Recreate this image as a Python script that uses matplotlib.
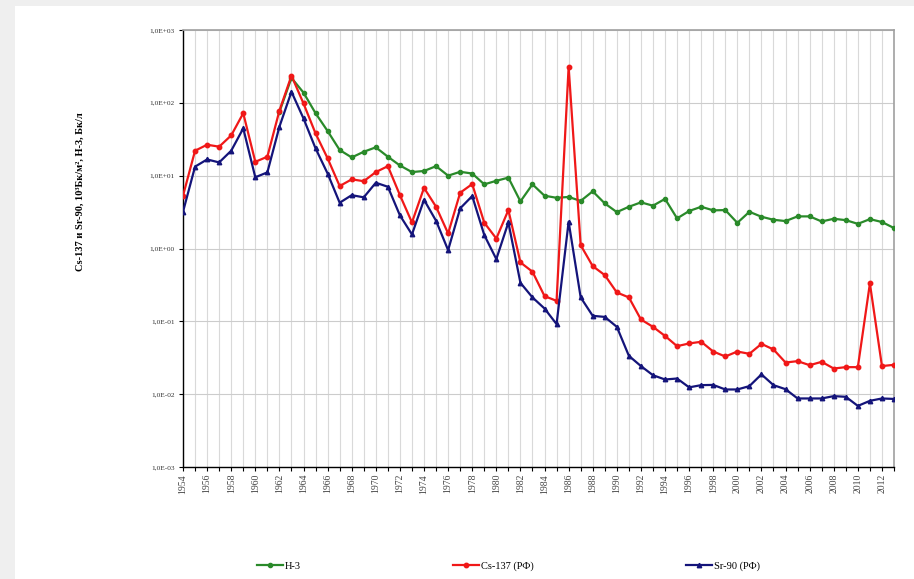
import matplotlib
matplotlib.use("Agg")
import matplotlib.pyplot as plt
from matplotlib.patches import Rectangle
import numpy as np

# годы и значения
years = list(range(1954, 2014))

h3_years = list(range(1962, 2014))
h3 = [75, 220, 138, 72, 41, 22.5, 17.8, 21.3, 24.5, 18.2, 13.8, 11.2,
      11.6, 13.5, 10.0, 11.3, 10.7, 7.6, 8.5, 9.4, 4.43, 7.6, 5.3, 4.97,
      5.1, 4.5, 6.1, 4.16, 3.16, 3.74, 4.3, 3.87, 4.8, 2.59, 3.27, 3.74,
      3.34, 3.37, 2.25, 3.19, 2.73, 2.48, 2.38, 2.76, 2.76, 2.35, 2.56,
      2.45, 2.18, 2.53, 2.31, 1.91]

cs137 = [5.3, 22, 26.6, 25, 35.7, 72, 15.5, 18.2, 78, 236, 98, 38, 17.3,
         7.2, 8.9, 8.4, 11.2, 13.5, 5.4, 2.28, 6.8, 3.74, 1.61, 5.83, 7.67,
         2.26, 1.37, 3.37, 0.644, 0.48, 0.222, 0.191, 313, 1.11, 0.573,
         0.431, 0.249, 0.213, 0.106, 0.084, 0.063, 0.0456, 0.0497, 0.0524,
         0.0385, 0.0329, 0.0385, 0.0358, 0.049, 0.0411, 0.0272, 0.0284,
         0.025, 0.0278, 0.0225, 0.0235, 0.0235, 0.331, 0.0243, 0.0253]

sr90 = [3.19, 13.3, 16.7, 15.2, 22, 44.6, 9.5, 11.1, 47, 142, 61, 23.7,
        10.7, 4.25, 5.4, 5.04, 8.0, 7.04, 2.85, 1.56, 4.67, 2.40, 0.95,
        3.56, 5.25, 1.53, 0.715, 2.28, 0.338, 0.213, 0.150, 0.0916, 2.33,
        0.213, 0.119, 0.115, 0.084, 0.0336, 0.0243, 0.0182, 0.0159, 0.0164,
        0.0124, 0.0133, 0.0134, 0.0116, 0.0116, 0.0129, 0.0187, 0.0133,
        0.0117, 0.00873, 0.00873, 0.00873, 0.0094, 0.0092, 0.0069, 0.0081,
        0.00873, 0.0086]

y_ticks = [1e-3, 1e-2, 1e-1, 1e0, 1e1, 1e2, 1e3]
y_labels = ["1,0E-03", "1,0E-02", "1,0E-01", "1,0E+00", "1,0E+01", "1,0E+02", "1,0E+03"]

serif = ["Liberation Serif", "DejaVu Serif"]

fig = plt.figure(figsize=(9.14, 5.79), dpi=100, facecolor="#efefef")
fig.patches.append(Rectangle((15 / 914, 0), 1, 1 - 6 / 579, transform=fig.transFigure,
                             facecolor="white", edgecolor="none", zorder=-5))

ax = fig.add_axes([183 / 914, 1 - 467 / 579, (894 - 183) / 914, (467 - 30) / 579])
ax.set_zorder(2)
ax.set_yscale("log")
ax.set_xlim(1954, 2013)
ax.set_ylim(1e-3, 1e3)

ax.plot(h3_years, h3, color="#2a8a2a", lw=1.6, marker="o", ms=3, label="H-3", zorder=3)
ax.plot(years, cs137, color="#f01818", lw=1.6, marker="o", ms=3.2, label="Cs-137 (РФ)", zorder=4)
ax.plot(years, sr90, color="#14147a", lw=1.6, marker="^", ms=3.2, label="Sr-90 (РФ)", zorder=5)

ax.set_xticks(years)
ax.set_xticklabels([str(y) if (y - 1954) % 2 == 0 else "" for y in years],
                   rotation=90, fontsize=7, family=serif, color="#444444")
ax.set_yticks(y_ticks)
ax.set_yticklabels(y_labels, fontsize=5.3, family=serif, color="#333333")
ax.yaxis.set_minor_locator(matplotlib.ticker.NullLocator())
ax.tick_params(axis="x", length=3, width=0.8, pad=2)
ax.tick_params(axis="y", length=3, width=0.8, pad=3)

ax.grid(True, axis="x", color="#d9d9d9", lw=0.8)
ax.grid(True, axis="y", color="#cccccc", lw=0.8)
ax.set_axisbelow(True)
for s in ["top", "right"]:
    ax.spines[s].set_color("#a0a0a0")
    ax.spines[s].set_linewidth(1.2)
for s in ["left", "bottom"]:
    ax.spines[s].set_color("black")
    ax.spines[s].set_linewidth(1)

fig.text(80 / 914, 1 - 192 / 579, "Cs-137 и Sr-90, 10³Бк/м², H-3, Бк/л", rotation=90,
         ha="center", va="center", fontsize=7.5, fontweight="bold", family=serif)

fig.legend(loc="center left", bbox_to_anchor=(257 / 914, 1 - 566 / 579), ncol=3,
           frameon=False, borderaxespad=0, borderpad=0, handlelength=2.5,
           handletextpad=0.15, columnspacing=14.65,
           prop={"family": serif, "size": 7.5})

fig.savefig("out.png", dpi=100, facecolor=fig.get_facecolor())
